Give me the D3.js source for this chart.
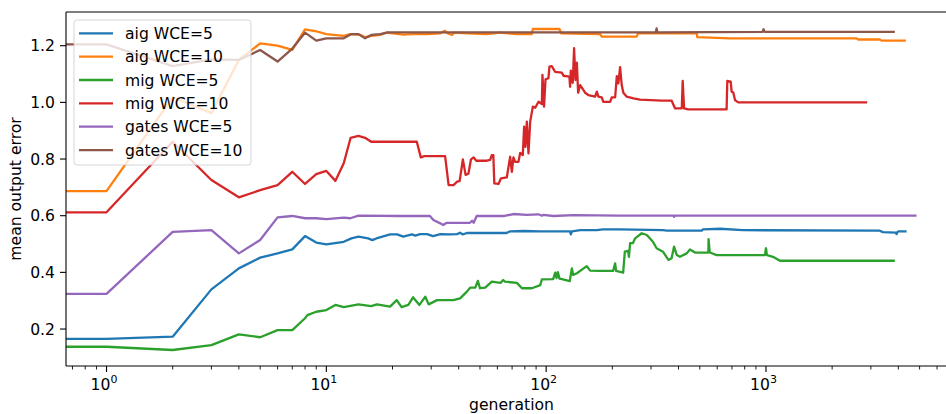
<!DOCTYPE html>
<html>
<head>
<meta charset="utf-8">
<script src="https://cdn.jsdelivr.net/npm/d3@7"></script>
<style>
  html, body { margin: 0; padding: 0; background: #fff; }
  svg { display: block; font-family: "DejaVu Sans", sans-serif; }
</style>
</head>
<body>
<svg id="chart" width="946" height="414"></svg>
<script>
// ---- data: [generation, mean output error] ----
const aig5 = [[0,0.165],[1,0.165],[2,0.173],[3,0.34],[4,0.414],[5,0.452],[6,0.467],[7,0.481],[8,0.528],[9,0.505],[10,0.499],[12,0.508],[13,0.52],[14,0.526],[15.5,0.52],[16.2,0.514],[17.2,0.522],[19.5,0.534],[21,0.534],[22.4,0.526],[24.5,0.534],[25.4,0.53],[26.7,0.535],[28.7,0.535],[30.6,0.528],[33,0.535],[36.6,0.534],[39.3,0.535],[40.6,0.54],[41.8,0.534],[43.6,0.539],[66,0.539],[68.6,0.545],[78.6,0.546],[94,0.545],[128.5,0.545],[129.5,0.534],[131,0.545],[142.8,0.549],[170,0.549],[181.6,0.552],[217,0.552],[340,0.549],[354,0.547],[510,0.547],[517,0.552],[618,0.554],[785,0.549],[3296,0.547],[3404,0.542],[3900,0.54],[3930,0.535],[3960,0.542],[4000,0.545],[4362,0.545]];
const aig10 = [[0,0.687],[1,0.687],[2,1.018],[3,0.962],[4,1.15],[5,1.208],[6,1.2],[7,1.185],[8,1.258],[9,1.251],[10,1.241],[12,1.235],[12.85,1.241],[14.3,1.238],[15.1,1.23],[16.1,1.235],[17.6,1.238],[18.8,1.246],[22.4,1.239],[24.8,1.241],[28.7,1.241],[33,1.244],[34.6,1.253],[35.5,1.244],[37.3,1.238],[38,1.246],[43.6,1.244],[53.5,1.241],[61.8,1.246],[73.3,1.241],[86,1.241],[87,1.259],[115,1.259],[117,1.244],[176,1.241],[179,1.232],[258,1.232],[262,1.244],[484,1.244],[487,1.23],[686,1.226],[2585,1.226],[2620,1.222],[3296,1.222],[3356,1.218],[4330,1.218]];
const mig5 = [[0,0.1375],[1,0.1375],[2,0.126],[3,0.143],[4,0.181],[5,0.171],[6,0.196],[7,0.196],[8,0.238],[8.2,0.249],[9,0.261],[10,0.267],[11,0.285],[12,0.277],[14,0.287],[16,0.281],[17,0.287],[19.5,0.279],[20.9,0.302],[22,0.277],[23.6,0.285],[24.8,0.312],[26.5,0.285],[28.2,0.314],[29.2,0.287],[31.9,0.302],[37.8,0.302],[40.6,0.308],[43.6,0.332],[45.1,0.346],[47.6,0.346],[48.9,0.37],[50,0.344],[52.8,0.346],[56.6,0.367],[62,0.363],[63.8,0.373],[65,0.367],[73.6,0.363],[77.6,0.344],[86.1,0.344],[94,0.355],[95.6,0.375],[107.6,0.376],[110,0.399],[111.5,0.38],[113,0.401],[115,0.378],[118,0.376],[128,0.369],[130.9,0.414],[132.7,0.391],[138,0.397],[153,0.422],[158.5,0.406],[176,0.405],[201.6,0.405],[206,0.432],[208,0.405],[224,0.399],[228,0.473],[236,0.476],[238,0.455],[241,0.503],[248,0.503],[254,0.52],[272,0.538],[287,0.532],[306,0.508],[318,0.485],[340,0.473],[360,0.444],[372,0.45],[382,0.491],[393,0.461],[406,0.455],[436,0.467],[451,0.481],[476,0.47],[547,0.47],[548,0.517],[555,0.47],[597,0.461],[989,0.461],[1000,0.485],[1010,0.461],[1076,0.455],[1158,0.441],[3856,0.441]];
const mig10 = [[0,0.612],[1,0.612],[2,0.861],[3,0.726],[4,0.665],[5,0.69],[6,0.708],[7,0.755],[8,0.712],[9,0.747],[10,0.758],[11,0.723],[12,0.785],[12.9,0.875],[14,0.882],[15,0.875],[16,0.861],[25.8,0.861],[26.9,0.806],[27.9,0.81],[34.7,0.81],[36,0.708],[37.9,0.708],[39.3,0.72],[40.4,0.722],[41.8,0.799],[43,0.744],[44.3,0.748],[45.5,0.799],[46.8,0.806],[48.1,0.794],[53.7,0.794],[55.6,0.797],[56.6,0.814],[57.5,0.814],[58.1,0.714],[60.7,0.712],[62.3,0.732],[66.2,0.735],[68.6,0.808],[69.8,0.755],[71,0.806],[72.3,0.79],[74.8,0.79],[76.2,0.822],[78.3,0.814],[79.4,0.914],[80.5,0.843],[81.7,0.932],[83.1,0.82],[84.6,0.932],[87,0.985],[89.2,0.981],[92.3,1.002],[95.6,0.994],[96.2,1.097],[97.8,0.985],[99.3,1.081],[102.4,1.085],[103.5,1.126],[106,1.128],[109.8,1.108],[117.8,1.105],[119.9,1.094],[127.6,1.091],[128.5,1.055],[129.5,1.112],[132.1,1.069],[134,1.191],[135.9,1.079],[137.9,1.14],[139.8,1.034],[142.8,1.061],[150.4,1.034],[155.6,1.026],[167,1.02],[170,1.038],[172.8,1.02],[179,1.018],[182,1.002],[195.4,1.002],[199,1.018],[206,1.018],[209.6,1.093],[213,1.067],[217,1.124],[220.7,1.061],[224.5,1.034],[232.6,1.02],[249.5,1.014],[267.5,1.01],[335.5,1.006],[372.5,1.006],[385.5,0.979],[414,0.979],[418,1.076],[424,0.979],[443,0.975],[662,0.975],[667,1.076],[691,1.073],[698,1.038],[710,1.035],[723,1.008],[748,1.0],[2886,1.0]];
const gates5 = [[0,0.324],[1,0.324],[2,0.543],[3,0.549],[4,0.467],[5,0.514],[6,0.594],[7,0.599],[8,0.591],[9,0.591],[10,0.588],[12,0.593],[12.85,0.591],[14,0.6],[21.7,0.599],[29.6,0.599],[30.7,0.585],[33,0.573],[34,0.567],[35.3,0.575],[45,0.575],[46,0.582],[46.8,0.575],[48.3,0.599],[64.6,0.599],[71,0.606],[81.7,0.603],[92.3,0.605],[95.6,0.6],[97.2,0.603],[108,0.599],[133,0.602],[215,0.6],[380,0.6],[382,0.596],[384,0.6],[4842,0.6]];
const gates10 = [[0,1.205],[1,1.205],[2,1.128],[3,1.152],[4,1.15],[5,1.185],[6,1.144],[7,1.19],[8,1.246],[9,1.218],[10,1.226],[12,1.226],[13,1.241],[14,1.241],[15,1.226],[16,1.238],[17.6,1.241],[19,1.247],[315,1.247],[318,1.261],[321,1.247],[965,1.249],[975,1.258],[985,1.249],[3856,1.249]];

const seriesNames = ["aig WCE=5","aig WCE=10","mig WCE=5","mig WCE=10","gates WCE=5","gates WCE=10"];
const seriesData = [aig5, aig10, mig5, mig10, gates5, gates10];
const seriesColors = ["#1f77b4","#ff7f0e","#2ca02c","#d62728","#9467bd","#8c564b"];
const yTicks = [0.2, 0.4, 0.6, 0.8, 1.0, 1.2];
const xMajorTicks = [1, 10, 100, 1000];
const xLabel = "generation";
const yLabel = "mean output error";

(function () {
// ---- layout ----
const svg = d3.select("#chart");
const pL = 66, pR = 957, pT = 12, pB = 366;
const xDomain = [Math.pow(10, -0.1843), Math.pow(10, 3.869)];
const x = d3.scaleLog().domain(xDomain).range([pL, pR]);
const y = d3.scaleLinear().domain([0.0695, 1.319]).range([pB, pT]);

svg.append("defs").append("clipPath").attr("id", "clip")
  .append("rect").attr("x", pL).attr("y", pT).attr("width", pR - pL).attr("height", pB - pT);

const line = d3.line()
  .x(d => x(Math.max(d[0], xDomain[0])))
  .y(d => y(d[1]));

const g = svg.append("g").attr("clip-path", "url(#clip)");
seriesData.forEach((data, i) => {
  g.append("path")
    .datum(data)
    .attr("d", line)
    .attr("fill", "none")
    .attr("stroke", seriesColors[i])
    .attr("stroke-width", 2.3)
    .attr("stroke-linejoin", "round")
    .attr("stroke-linecap", "butt");
});

// ---- axes ----
const axisColor = "#000";
const fontSize = 15.6;

yTicks.forEach(v => {
  svg.append("line").attr("x1", pL - 6).attr("x2", pL).attr("y1", y(v)).attr("y2", y(v))
    .attr("stroke", axisColor).attr("stroke-width", 1.1);
  svg.append("text").attr("x", pL - 11).attr("y", y(v)).attr("dy", "0.36em")
    .attr("text-anchor", "end").attr("font-size", fontSize).attr("fill", "#000")
    .text(d3.format(".1f")(v));
});

for (let d = -1; d <= 3; d++) {
  for (let k = 2; k <= 9; k++) {
    const v = k * Math.pow(10, d);
    if (v < xDomain[0] || v > xDomain[1]) continue;
    svg.append("line").attr("x1", x(v)).attr("x2", x(v)).attr("y1", pB).attr("y2", pB + 3.5)
      .attr("stroke", axisColor).attr("stroke-width", 0.9);
  }
}
xMajorTicks.forEach(v => {
  svg.append("line").attr("x1", x(v)).attr("x2", x(v)).attr("y1", pB).attr("y2", pB + 6)
    .attr("stroke", axisColor).attr("stroke-width", 1.1);
  const t = svg.append("text").attr("x", x(v) - 2.5).attr("y", 390)
    .attr("text-anchor", "middle").attr("font-size", fontSize).attr("fill", "#000");
  t.append("tspan").text("10");
  t.append("tspan").attr("dy", -7).attr("font-size", 11).text(String(Math.round(Math.log10(v))));
});

svg.append("line").attr("x1", pL).attr("x2", pL).attr("y1", pT).attr("y2", pB)
  .attr("stroke", axisColor).attr("stroke-width", 1.1);
svg.append("line").attr("x1", pL).attr("x2", pR).attr("y1", pB).attr("y2", pB)
  .attr("stroke", axisColor).attr("stroke-width", 1.1);
svg.append("line").attr("x1", pL).attr("x2", pR).attr("y1", pT).attr("y2", pT)
  .attr("stroke", axisColor).attr("stroke-width", 1.1);
svg.append("line").attr("x1", pR).attr("x2", pR).attr("y1", pT).attr("y2", pB)
  .attr("stroke", axisColor).attr("stroke-width", 1.1);

svg.append("text").attr("x", (pL + pR) / 2).attr("y", 409.5)
  .attr("text-anchor", "middle").attr("font-size", fontSize).attr("fill", "#000").text(xLabel);
svg.append("text").attr("transform", `translate(21,${(pT + pB) / 2}) rotate(-90)`)
  .attr("text-anchor", "middle").attr("font-size", fontSize).attr("fill", "#000").text(yLabel);

// ---- legend ----
const lg = svg.append("g");
lg.append("rect").attr("x", 74).attr("y", 20).attr("width", 177).attr("height", 145)
  .attr("rx", 3).attr("ry", 3)
  .attr("fill", "#fff").attr("fill-opacity", 0.8)
  .attr("stroke", "#cccccc").attr("stroke-opacity", 0.8).attr("stroke-width", 1);
seriesNames.forEach((name, i) => {
  const yy = 33.3 + i * 23.35;
  lg.append("line").attr("x1", 79).attr("x2", 113).attr("y1", yy).attr("y2", yy)
    .attr("stroke", seriesColors[i]).attr("stroke-width", 2.3);
  lg.append("text").attr("x", 125).attr("y", yy).attr("dy", "0.36em")
    .attr("font-size", fontSize).attr("fill", "#000").text(name);
});
})();
</script>
</body>
</html>
